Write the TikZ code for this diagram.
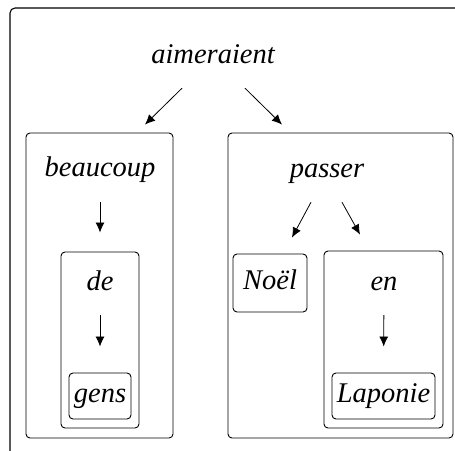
\documentclass[tikz,border=0pt]{standalone}
\usepackage{fontspec}
\setmainfont{Liberation Serif}
\usetikzlibrary{arrows.meta,calc}
\tikzset{
  word/.style={inner sep=0pt, anchor=base, text height=18pt, text depth=5pt, font=\fontsize{28.5}{30}\selectfont\itshape},
  box/.style={draw, line width=0.9pt, rounded corners=4pt, inner sep=0pt},
  leaf/.style={box, text height=18pt, text depth=5pt, font=\fontsize{28.5}{30}\selectfont\itshape},
  arr/.style={-{Latex[length=10pt,width=9pt]}, line width=0.8pt},
  frame/.style={draw, line width=1.1pt, rounded corners=5pt}
}
\begin{document}
\begin{tikzpicture}[x=1pt,y=-1pt]
\useasboundingbox (0,0) rectangle (455,450);
\clip (0,0) rectangle (455,450);
\path[frame] (10,8) rectangle (470,470);
% containers
\node[box, minimum width=147pt, minimum height=305pt] (lbox) at (99.5,285.5) {};
\node[box, minimum width=225pt, minimum height=305pt] (rbox) at (340.5,285.5) {};
\node[box, minimum width=78pt, minimum height=176pt] (debox) at (100,340) {};
\node[box, minimum width=119pt, minimum height=177pt] (enbox) at (383.5,339.5) {};
% leaves
\node[leaf, minimum width=62pt, minimum height=46pt] (gens) at (100,396) {gens};
\node[leaf, minimum width=103pt, minimum height=46pt] (lap) at (383.5,396) {Laponie};
\node[leaf, minimum width=74pt, minimum height=58pt] (noel) at (270,283) {Noël};
% words
\node[word] (aim) at (213,63) {aimeraient};
\node[word] (beau) at (100,176) {beaucoup};
\node[word] (de) at (100,290) {de};
\node[word] (pas) at (327,177) {passer};
\node[word] (en) at (384,290) {en};
% arrows
\draw[arr] ($(aim.south)+(-31,20)$) -- ($(lbox.north)+(45.5,-8)$);
\draw[arr] ($(aim.south)+(32,20)$) -- ($(rbox.north)+(-58.5,-8)$);
\draw[arr, shorten <=21pt, shorten >=19pt] (beau.south) -- (debox.north);
\draw[arr, shorten <=20pt, shorten >=26pt] (de.south) -- (gens.north);
\draw[arr, shorten <=20pt, shorten >=26pt] (en.south) -- (lap.north);
\draw[arr] ($(pas.south)+(-16,20)$) -- ($(noel.north)+(22,-16)$);
\draw[arr] ($(pas.south)+(15,20)$) -- ($(enbox.north)+(-23.5,-16)$);
\end{tikzpicture}
\end{document}
